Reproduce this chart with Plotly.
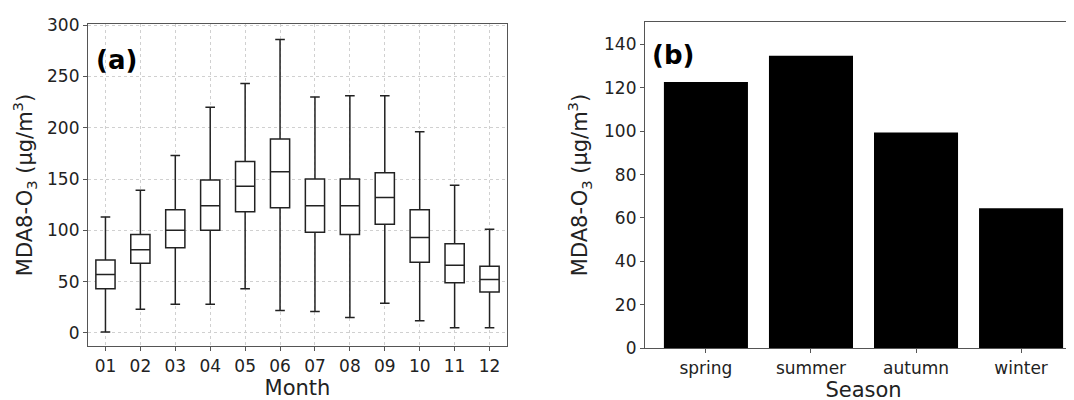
import plotly.graph_objects as go

# ---- Data ----
months = ["01", "02", "03", "04", "05", "06", "07", "08", "09", "10", "11", "12"]
whisker_low = [1, 23, 28, 28, 43, 22, 21, 15, 29, 12, 5, 5]
q1_vals = [43, 68, 83, 100, 118, 122, 98, 96, 106, 69, 49, 40]
median_vals = [57, 81, 100, 124, 143, 157, 124, 124, 132, 93, 66, 52]
q3_vals = [71, 96, 120, 149, 167, 189, 150, 150, 156, 120, 87, 65]
whisker_high = [113, 139, 173, 220, 243, 286, 230, 231, 231, 196, 144, 101]

seasons = ["spring", "summer", "autumn", "winter"]
season_means = [122.7, 134.8, 99.4, 64.5]

month_ticks = [0, 50, 100, 150, 200, 250, 300]
season_ticks = [0, 20, 40, 60, 80, 100, 120, 140]

FONT = "DejaVu Sans"
TXT = "#222222"
FRAME = "#555555"
W, H = 1074, 400
OFF = 8  # page body margin offset


def px_x(x):
    return (x - OFF) / W


def px_y(y):
    return 1 - (y - OFF) / H


fig = go.Figure()

fig.add_trace(go.Box(
    x=months,
    q1=q1_vals,
    median=median_vals,
    q3=q3_vals,
    lowerfence=whisker_low,
    upperfence=whisker_high,
    xaxis="x", yaxis="y",
    fillcolor="white",
    line=dict(color="#222222", width=1.5),
    width=0.55,
    whiskerwidth=0.5,
    boxpoints=False,
    showlegend=False,
))

fig.add_trace(go.Bar(
    x=seasons,
    y=season_means,
    xaxis="x2", yaxis="y2",
    marker=dict(color="black", line=dict(width=0)),
    width=0.8,
    showlegend=False,
))

ytitle = "MDA8-O<sub>3</sub> (μg/m<sup>3</sup>)"

common_axis = dict(
    showline=True, mirror=True, linecolor=FRAME, linewidth=1.2,
    ticks="outside", ticklen=4, tickcolor=FRAME, tickwidth=1,
    tickfont=dict(size=17, color=TXT, family=FONT),
    zeroline=False, automargin=False,
)

fig.update_layout(
    template="none",
    width=W, height=H,
    margin=dict(l=0, r=0, t=0, b=0, pad=0),
    paper_bgcolor="white", plot_bgcolor="white",
    font=dict(family=FONT, color=TXT),
    xaxis=dict(
        domain=[px_x(88), px_x(507)], anchor="y", type="category",
        range=[-0.5, 11.5],
        showgrid=True, gridcolor="#d0d0d0", griddash="dot", gridwidth=1,
        title=dict(text="Month", font=dict(size=21, color=TXT), standoff=5),
        **common_axis,
    ),
    yaxis=dict(
        domain=[px_y(346), px_y(24)], anchor="x",
        range=[-12.7, 301], tickvals=month_ticks,
        showgrid=True, gridcolor="#d0d0d0", griddash="dot", gridwidth=1,
        title=dict(text=ytitle, font=dict(size=21, color=TXT), standoff=8),
        **common_axis,
    ),
    xaxis2=dict(
        domain=[px_x(645), 1.0], anchor="y2", type="category",
        range=[-0.58, 3.58],
        showgrid=False,
        title=dict(text="Season", font=dict(size=21, color=TXT), standoff=5),
        **common_axis,
    ),
    yaxis2=dict(
        domain=[px_y(348), px_y(22)], anchor="x2",
        range=[0, 150.4], tickvals=season_ticks,
        showgrid=False,
        title=dict(text=ytitle, font=dict(size=21, color=TXT), standoff=10),
        **common_axis,
    ),
    annotations=[
        dict(text="<b>(a)</b>", xref="x domain", yref="y domain",
             x=0.015, y=0.888, xanchor="left", yanchor="middle",
             showarrow=False, font=dict(size=26, color="black", family=FONT)),
        dict(text="<b>(b)</b>", xref="x2 domain", yref="y2 domain",
             x=0.012, y=0.899, xanchor="left", yanchor="middle",
             showarrow=False, font=dict(size=26, color="black", family=FONT)),
    ],
)

fig.write_html("out.html")
